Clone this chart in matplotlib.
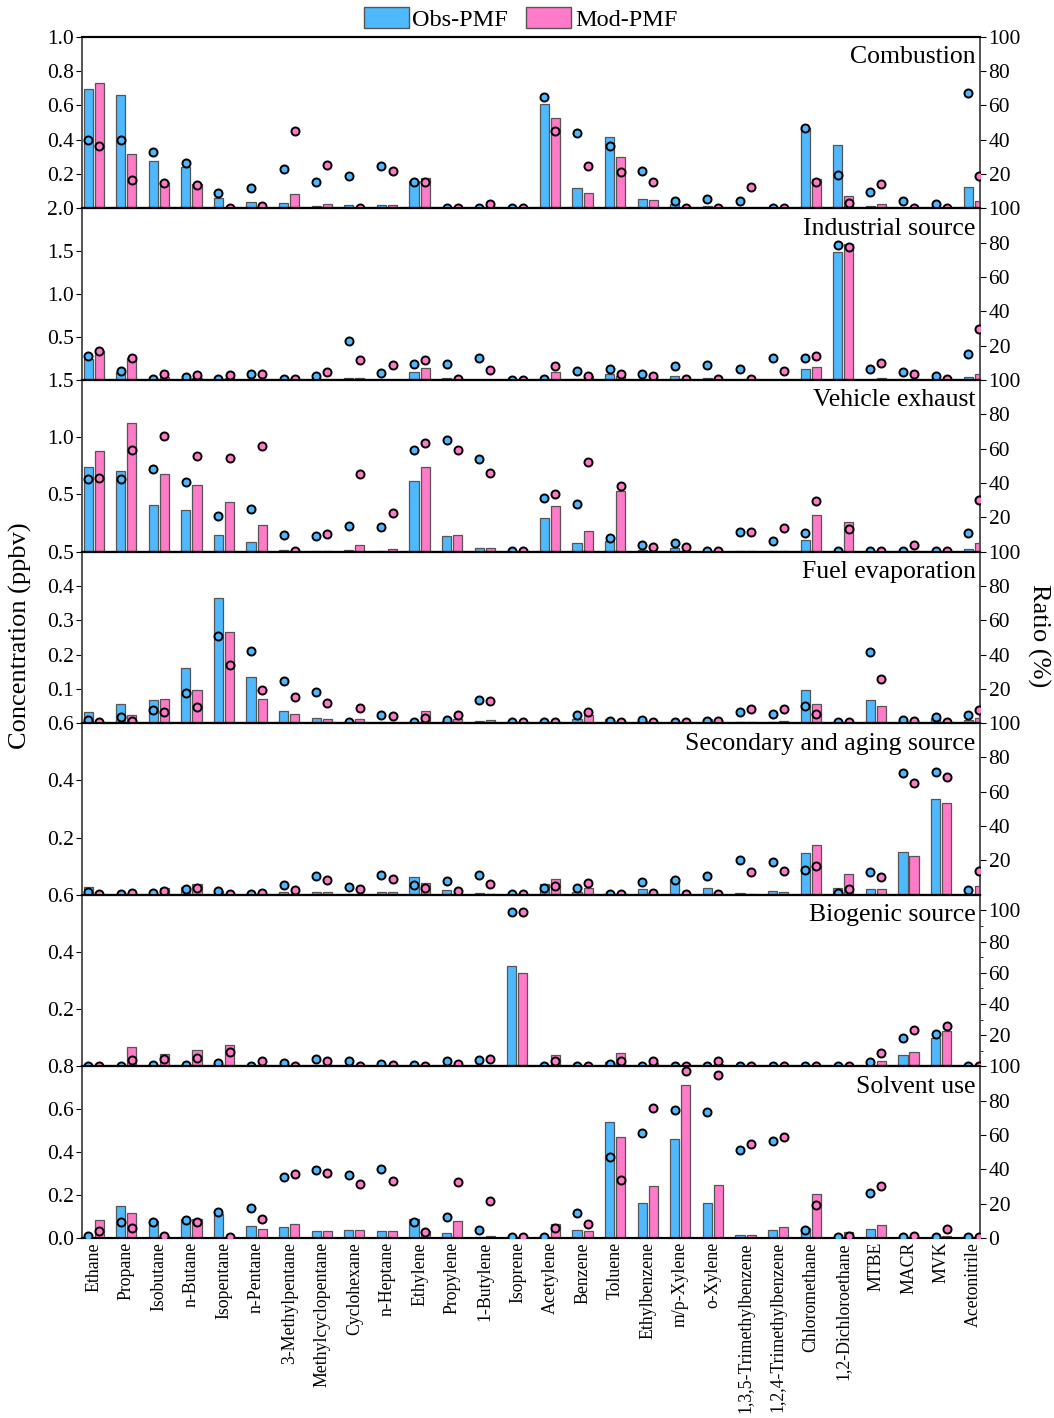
import numpy as np
import matplotlib
matplotlib.use('Agg')
from matplotlib import pyplot as plt
from matplotlib.patches import Patch

plt.rcParams['font.family'] = ['Liberation Serif', 'DejaVu Serif']
plt.rcParams['mathtext.fontset'] = 'stix'

species = ['Ethane', 'Propane', 'Isobutane', 'n-Butane', 'Isopentane', 'n-Pentane',
           '3-Methylpentane', 'Methylcyclopentane', 'Cyclohexane', 'n-Heptane',
           'Ethylene', 'Propylene', '1-Butylene', 'Isoprene', 'Acetylene', 'Benzene',
           'Toluene', 'Ethylbenzene', 'm/p-Xylene', 'o-Xylene',
           '1,3,5-Trimethylbenzene', '1,2,4-Trimethylbenzene', 'Chloromethane',
           '1,2-Dichloroethane', 'MTBE', 'MACR', 'MVK', 'Acetonitrile']

# concentration (ppbv) and ratio (%) per source, Obs-PMF / Mod-PMF
comb_obs = [0.698, 0.663, 0.278, 0.239, 0.063, 0.037, 0.033, 0.012, 0.020, 0.020, 0.160, 0.003, 0.002, 0.0,
            0.610, 0.122, 0.416, 0.057, 0.025, 0.012, 0.002, 0.001, 0.469, 0.369, 0.016, 0.005, 0.003, 0.127]
comb_mod = [0.733, 0.316, 0.153, 0.145, 0.002, 0.003, 0.082, 0.027, 0.003, 0.020, 0.180, 0.003, 0.002, 0.0,
            0.527, 0.088, 0.298, 0.051, 0.003, 0.003, 0.002, 0.001, 0.171, 0.075, 0.027, 0.002, 0.002, 0.045]
comb_obs_r = [40.0, 40.0, 32.7, 26.7, 9.2, 12.0, 23.0, 15.7, 18.8, 24.9, 15.7, 0.2, 0.3, 0.2,
              65.0, 43.9, 36.5, 21.6, 4.3, 5.7, 4.5, 0.3, 46.9, 19.4, 9.6, 4.3, 2.5, 67.3]
comb_mod_r = [36.3, 16.5, 14.7, 13.5, 0.4, 1.4, 45.0, 25.3, 0.4, 21.6, 15.3, 0.2, 2.7, 0.2,
              45.0, 24.9, 21.4, 15.7, 0.4, 0.4, 12.7, 0.3, 15.7, 3.3, 14.5, 0.5, 0.4, 18.8]

ind_obs = [0.244, 0.089, 0.004, 0.010, 0.003, 0.010, 0.003, 0.005, 0.020, 0.005, 0.097, 0.020, 0.006, 0.0,
           0.003, 0.015, 0.073, 0.010, 0.050, 0.023, 0.002, 0.005, 0.127, 1.490, 0.005, 0.005, 0.002, 0.030]
ind_mod = [0.341, 0.252, 0.035, 0.023, 0.020, 0.010, 0.003, 0.004, 0.020, 0.004, 0.140, 0.003, 0.003, 0.0,
           0.092, 0.042, 0.050, 0.010, 0.005, 0.004, 0.002, 0.003, 0.150, 1.580, 0.020, 0.003, 0.002, 0.073]
ind_obs_r = [13.8, 5.0, 0.6, 1.6, 0.6, 3.5, 0.5, 2.5, 22.5, 4.3, 9.5, 9.5, 12.8, 0.3,
             0.6, 5.0, 6.3, 3.8, 8.1, 9.0, 6.5, 12.9, 12.9, 78.7, 6.7, 4.6, 2.1, 15.2]
ind_mod_r = [16.7, 12.8, 3.5, 3.1, 2.7, 3.3, 0.5, 4.5, 11.8, 8.9, 11.6, 0.6, 6.0, 0.3,
             8.1, 2.1, 3.7, 2.5, 0.8, 0.8, 0.8, 5.2, 13.8, 77.7, 9.8, 3.7, 0.8, 29.8]

veh_obs = [0.741, 0.706, 0.407, 0.366, 0.148, 0.081, 0.015, 0.005, 0.015, 0.008, 0.619, 0.140, 0.029, 0.0,
           0.297, 0.078, 0.090, 0.015, 0.029, 0.003, 0.002, 0.004, 0.105, 0.002, 0.001, 0.002, 0.001, 0.023]
veh_mod = [0.878, 1.125, 0.680, 0.581, 0.436, 0.233, 0.003, 0.008, 0.058, 0.023, 0.741, 0.145, 0.029, 0.0,
           0.395, 0.183, 0.529, 0.005, 0.006, 0.003, 0.003, 0.008, 0.317, 0.262, 0.001, 0.004, 0.001, 0.073]
veh_obs_r = [42.6, 42.6, 47.9, 40.5, 20.7, 25.0, 9.5, 9.1, 14.7, 14.1, 59.5, 65.1, 53.7, 0.3,
             31.3, 27.8, 8.0, 3.9, 5.0, 0.4, 11.3, 6.0, 10.9, 0.4, 0.4, 0.4, 0.4, 10.7]
veh_mod_r = [43.0, 59.1, 67.2, 56.0, 54.8, 61.8, 0.4, 10.1, 45.2, 22.7, 63.2, 59.3, 46.1, 0.3,
             33.6, 52.4, 38.3, 2.7, 2.7, 0.4, 11.3, 13.8, 29.5, 13.0, 0.4, 3.7, 0.4, 30.3]

fuel_obs = [0.033, 0.056, 0.067, 0.162, 0.365, 0.136, 0.036, 0.016, 0.002, 0.004, 0.001, 0.005, 0.007, 0.0,
            0.001, 0.013, 0.011, 0.005, 0.001, 0.011, 0.002, 0.004, 0.097, 0.001, 0.069, 0.003, 0.014, 0.008]
fuel_mod = [0.003, 0.024, 0.071, 0.097, 0.267, 0.070, 0.028, 0.013, 0.011, 0.004, 0.036, 0.012, 0.009, 0.0,
            0.001, 0.024, 0.003, 0.002, 0.001, 0.004, 0.003, 0.007, 0.056, 0.001, 0.051, 0.002, 0.002, 0.016]
fuel_obs_r = [1.9, 3.5, 7.8, 17.7, 50.9, 42.1, 24.4, 18.1, 0.4, 4.7, 0.4, 1.6, 13.4, 0.4,
              0.4, 5.0, 1.2, 1.7, 0.4, 1.4, 6.8, 5.6, 10.1, 0.4, 41.6, 2.1, 3.5, 4.7]
fuel_mod_r = [0.4, 1.4, 6.8, 9.6, 33.7, 19.1, 15.2, 11.7, 8.8, 4.1, 3.3, 4.7, 12.9, 0.4,
              0.4, 6.6, 0.4, 0.4, 0.4, 1.0, 8.0, 8.0, 5.4, 0.4, 25.6, 1.2, 0.4, 7.4]

sec_obs = [0.027, 0.002, 0.002, 0.028, 0.013, 0.001, 0.008, 0.011, 0.004, 0.011, 0.062, 0.018, 0.007, 0.0,
           0.038, 0.009, 0.001, 0.020, 0.056, 0.023, 0.006, 0.013, 0.145, 0.023, 0.021, 0.148, 0.336, 0.003]
sec_mod = [0.002, 0.002, 0.022, 0.039, 0.002, 0.002, 0.004, 0.008, 0.003, 0.008, 0.042, 0.002, 0.003, 0.0,
           0.056, 0.022, 0.001, 0.002, 0.001, 0.002, 0.004, 0.010, 0.174, 0.071, 0.019, 0.134, 0.322, 0.031]
sec_obs_r = [1.8, 0.4, 0.8, 3.1, 2.2, 0.4, 5.5, 11.2, 4.5, 11.4, 5.9, 8.2, 11.4, 0.4,
             4.1, 4.1, 0.2, 7.6, 8.7, 10.7, 20.0, 19.0, 14.6, 1.2, 13.4, 70.7, 71.3, 2.5]
sec_mod_r = [0.6, 1.0, 2.4, 3.7, 0.6, 1.2, 2.9, 8.8, 3.1, 9.0, 3.7, 2.2, 6.1, 0.4,
             4.9, 6.6, 0.2, 1.0, 0.6, 0.6, 13.2, 13.6, 16.5, 3.3, 10.5, 65.4, 68.5, 13.8]

bio_obs = [0.001, 0.001, 0.002, 0.003, 0.006, 0.001, 0.002, 0.003, 0.002, 0.001, 0.001, 0.003, 0.003, 0.352,
           0.001, 0.001, 0.014, 0.002, 0.001, 0.001, 0.001, 0.001, 0.001, 0.001, 0.004, 0.039, 0.099, 0.001]
bio_mod = [0.001, 0.066, 0.042, 0.056, 0.073, 0.004, 0.002, 0.003, 0.002, 0.001, 0.001, 0.003, 0.004, 0.325,
           0.039, 0.001, 0.046, 0.011, 0.001, 0.008, 0.001, 0.001, 0.001, 0.001, 0.019, 0.050, 0.125, 0.001]
bio_obs_r = [0.4, 0.2, 1.0, 0.6, 1.9, 0.0, 2.1, 4.8, 3.2, 1.5, 0.6, 3.6, 3.8, 98.7,
             0.4, 0.2, 1.5, 0.4, 0.2, 0.2, 0.2, 0.2, 0.2, 0.2, 2.5, 17.9, 20.8, 0.2]
bio_mod_r = [0.4, 3.8, 4.6, 5.3, 9.1, 3.2, 0.2, 3.6, 0.2, 1.0, 0.4, 1.5, 4.6, 98.7,
             3.6, 0.2, 3.6, 3.6, 0.2, 3.4, 0.2, 0.2, 0.2, 0.2, 8.8, 23.6, 25.7, 0.2]

solv_obs = [0.005, 0.150, 0.080, 0.090, 0.113, 0.056, 0.052, 0.033, 0.038, 0.033, 0.090, 0.023, 0.004, 0.0,
            0.002, 0.038, 0.540, 0.164, 0.460, 0.164, 0.012, 0.038, 0.047, 0.004, 0.042, 0.002, 0.003, 0.002]
solv_mod = [0.085, 0.117, 0.010, 0.090, 0.002, 0.042, 0.066, 0.033, 0.035, 0.033, 0.033, 0.080, 0.008, 0.0,
            0.066, 0.030, 0.470, 0.244, 0.713, 0.249, 0.014, 0.052, 0.207, 0.028, 0.061, 0.002, 0.010, 0.002]
solv_obs_r = [1.0, 9.3, 9.3, 10.5, 15.2, 17.5, 35.6, 39.7, 36.8, 40.3, 9.3, 12.3, 4.7, 0.3,
              0.6, 14.6, 47.3, 61.3, 74.7, 73.6, 51.4, 56.6, 4.7, 0.6, 26.3, 0.6, 0.6, 0.3]
solv_mod_r = [4.0, 5.8, 1.2, 9.3, 0.5, 11.1, 37.4, 38.0, 31.5, 33.3, 3.5, 32.7, 21.6, 0.3,
              5.8, 8.2, 33.9, 75.9, 97.5, 95.2, 54.9, 59.0, 19.3, 1.2, 30.4, 1.2, 5.3, 0.3]

names = ['Combustion', 'Industrial source', 'Vehicle exhaust', 'Fuel evaporation',
         'Secondary and aging source', 'Biogenic source', 'Solvent use']
conc_top = [1.0, 2.0, 1.5, 0.5, 0.6, 0.6, 0.8]
conc_step = [0.2, 0.5, 0.5, 0.1, 0.2, 0.2, 0.2]
ratio_top = [100, 100, 100, 100, 100, 110, 100]

panels = [(comb_obs, comb_mod, comb_obs_r, comb_mod_r),
          (ind_obs, ind_mod, ind_obs_r, ind_mod_r),
          (veh_obs, veh_mod, veh_obs_r, veh_mod_r),
          (fuel_obs, fuel_mod, fuel_obs_r, fuel_mod_r),
          (sec_obs, sec_mod, sec_obs_r, sec_mod_r),
          (bio_obs, bio_mod, bio_obs_r, bio_mod_r),
          (solv_obs, solv_mod, solv_obs_r, solv_mod_r)]

c_obs = '#4FB9FF'
c_mod = '#FF7AC8'
w = 0.28
off = 0.17
x = np.arange(len(species))

fig, axs = plt.subplots(7, 1, figsize=(10.54, 14.18), dpi=100, sharex=True)
fig.subplots_adjust(left=0.078, right=0.93, top=0.974, bottom=0.127, hspace=0)

n = len(panels)
for k in range(n):
    ax = axs[k]
    obs, mod, obs_r, mod_r = panels[k]
    ax.bar(x - off, obs, w, color=c_obs, edgecolor='#555555', linewidth=0.9, zorder=2)
    ax.bar(x + off, mod, w, color=c_mod, edgecolor='#555555', linewidth=0.9, zorder=2)
    ax.set_ylim(0, conc_top[k])
    ax.set_xlim(-0.35, 27.2)
    last = (k == n - 1)
    start = 0 if last else 1
    yt = [conc_step[k] * i for i in range(start, int(round(conc_top[k] / conc_step[k])) + 1)]
    ax.set_yticks(yt)
    ax.set_yticklabels(['%.1f' % v for v in yt])
    ax.tick_params(axis='y', direction='out', length=4, labelsize=15.5, pad=2)
    ax.tick_params(axis='x', length=0, labelsize=12.8, pad=3)

    ax2 = ax.twinx()
    ax2.plot(x - off, obs_r, 'o', ms=5.8, mfc=c_obs, mec='black', mew=1.4, zorder=3)
    ax2.plot(x + off, mod_r, 'o', ms=5.8, mfc=c_mod, mec='black', mew=1.4, zorder=3)
    ax2.set_ylim(0, ratio_top[k])
    rt = list(range(0 if last else 20, 101, 20))
    ax2.set_yticks(rt)
    ax2.set_yticklabels([str(v) for v in rt])
    ax2.tick_params(axis='y', direction='out', length=4, labelsize=15.5, pad=2)
    if ratio_top[k] > 100:
        ax2.set_yticks(range(10, 110, 20), minor=True)
        ax2.tick_params(axis='y', which='minor', direction='out', length=2.5)

    for a in (ax, ax2):
        a.spines['left'].set_color('#555555')
        a.spines['right'].set_color('#555555')
        a.spines['left'].set_linewidth(1.3)
        a.spines['right'].set_linewidth(1.3)
        a.spines['top'].set_linewidth(1.5)
        a.spines['bottom'].set_linewidth(1.5)

    ax.text(0.995, 0.945, names[k], transform=ax.transAxes, ha='right', va='top',
            fontsize=18.5, zorder=5)

axs[-1].set_xticks(x)
axs[-1].set_xticklabels(species, rotation=90, ha='center', va='top')

fig.text(0.019, 0.552, 'Concentration (ppbv)', rotation=90, ha='center', va='center', fontsize=19)
fig.text(0.985, 0.552, 'Ratio (%)', rotation=-90, ha='center', va='center', fontsize=19)

handles = [Patch(facecolor=c_obs, edgecolor='#555555', label='Obs-PMF'),
           Patch(facecolor=c_mod, edgecolor='#555555', label='Mod-PMF')]
fig.legend(handles=handles, loc='center', bbox_to_anchor=(0.494, 0.9865), ncol=2, frameon=False,
           fontsize=17.5, handlelength=1.85, handleheight=0.95, handletextpad=0.15, columnspacing=0.75)

fig.savefig('out.png', dpi=100)
